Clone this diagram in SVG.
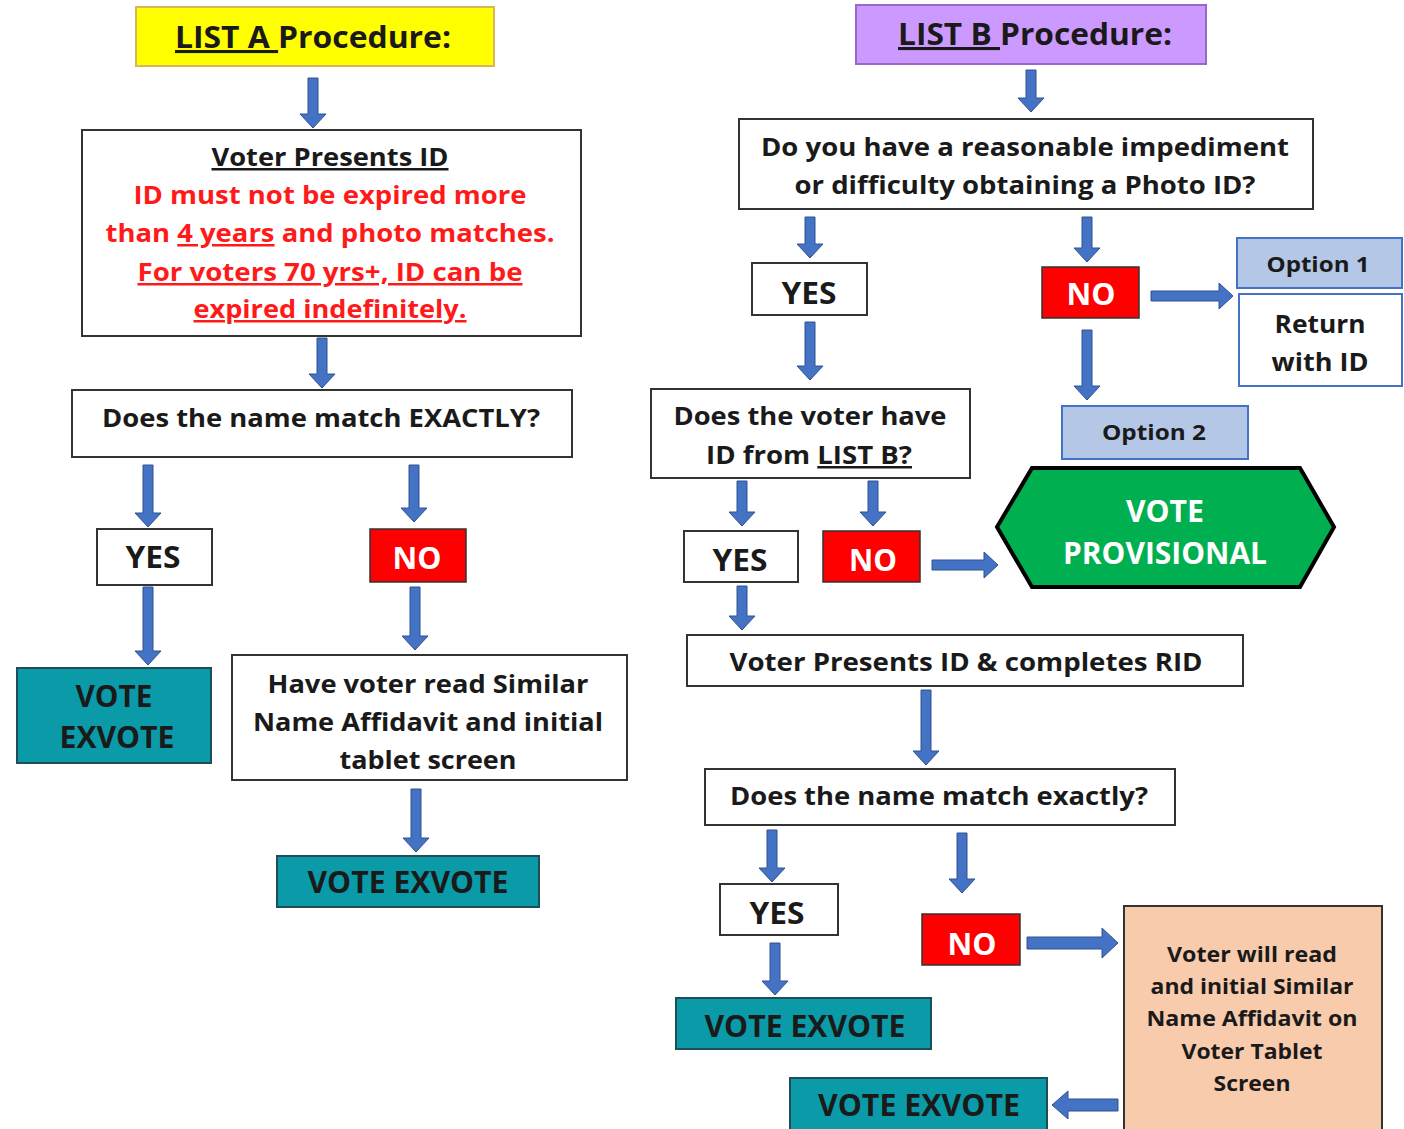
<svg xmlns="http://www.w3.org/2000/svg" width="1404" height="1129" viewBox="0 0 1404 1129">
<style>
text{font-family:"Open Sans","Liberation Sans",sans-serif;font-weight:bold;text-anchor:middle}
.t{font-size:25px;fill:#1a1a1a}
.big{font-size:31px;fill:#1a1a1a}
.yn{font-size:30px}
.red{fill:#ff1a1a}
.w{fill:#fff}
.sm{font-size:21px;fill:#1a1a1a}
.box{fill:#fff;stroke:#333;stroke-width:2}
.no{fill:#ff0000;stroke:#333;stroke-width:1.5}
.teal{fill:#0a9aa8;stroke:#1f4e5a;stroke-width:2}
.opt{fill:#b4c7e7;stroke:#4472c4;stroke-width:2}
.ret{fill:#fff;stroke:#4472c4;stroke-width:2}
.arr path{fill:#4472c4;stroke:#2f528f;stroke-width:1}
</style>
<g id="connectors" class="arr">
<path d="M308 78H318V114H326L313 128L300 114H308Z"/>
<path d="M317 338H327V374H335L322 388L309 374H317Z"/>
<path d="M143 465H153V513H161L148 527L135 513H143Z"/>
<path d="M409 465H419V508H427L414 522L401 508H409Z"/>
<path d="M143 587H153V651H161L148 665L135 651H143Z"/>
<path d="M410 587H420V636H428L415 650L402 636H410Z"/>
<path d="M411 789H421V838H429L416 852L403 838H411Z"/>
<path d="M1026 70H1036V98H1044L1031 112L1018 98H1026Z"/>
<path d="M805 217H815V244H823L810 258L797 244H805Z"/>
<path d="M1082 217H1092V248H1100L1087 262L1074 248H1082Z"/>
<path d="M1151 291H1219V283L1233 296L1219 309V301H1151Z"/>
<path d="M805 322H815V366H823L810 380L797 366H805Z"/>
<path d="M1082 330H1092V386H1100L1087 400L1074 386H1082Z"/>
<path d="M737 481H747V512H755L742 526L729 512H737Z"/>
<path d="M868 481H878V512H886L873 526L860 512H868Z"/>
<path d="M932 560H984V552L998 565L984 578V570H932Z"/>
<path d="M737 586H747V616H755L742 630L729 616H737Z"/>
<path d="M921 690H931V751H939L926 765L913 751H921Z"/>
<path d="M767 830H777V868H785L772 882L759 868H767Z"/>
<path d="M957 833H967V879H975L962 893L949 879H957Z"/>
<path d="M1027 937H1102V928L1118 943L1102 958V949H1027Z"/>
<path d="M770 943H780V981H788L775 995L762 981H770Z"/>
<path d="M1118 1099H1068V1091L1052 1105L1068 1119V1111H1118Z"/>
</g>
<g id="listA">
<rect x="136" y="7" width="358" height="59" fill="#ffff00" stroke="#d6b656" stroke-width="2"/>
<text class="big" x="313" y="48" textLength="276" lengthAdjust="spacingAndGlyphs"><tspan text-decoration="underline">LIST A </tspan>Procedure:</text>
</g>
<g id="presentsA">
<rect class="box" x="82" y="130" width="499" height="206"/>
<text class="t" x="330" y="166" textLength="237" lengthAdjust="spacingAndGlyphs" text-decoration="underline">Voter Presents ID</text>
<text class="t red" x="330" y="204" textLength="393" lengthAdjust="spacingAndGlyphs">ID must not be expired more</text>
<text class="t red" x="330" y="242" textLength="449" lengthAdjust="spacingAndGlyphs">than <tspan text-decoration="underline">4 years</tspan> and photo matches.</text>
<text class="t red" x="330" y="281" textLength="385" lengthAdjust="spacingAndGlyphs" text-decoration="underline">For voters 70 yrs+, ID can be</text>
<text class="t red" x="330" y="318" textLength="273" lengthAdjust="spacingAndGlyphs" text-decoration="underline">expired indefinitely.</text>
</g>
<g id="matchA">
<rect class="box" x="72" y="390" width="500" height="67"/>
<text class="t" x="321" y="427" textLength="438" lengthAdjust="spacingAndGlyphs">Does the name match EXACTLY?</text>
</g>
<g id="yesA">
<rect class="box" x="97" y="529" width="115" height="56"/>
<text class="yn" fill="#1a1a1a" x="153" y="568" textLength="55" lengthAdjust="spacingAndGlyphs">YES</text>
</g>
<g id="noA">
<rect class="no" x="370" y="529" width="96" height="53"/>
<text class="yn w" x="417" y="569" textLength="49" lengthAdjust="spacingAndGlyphs">NO</text>
</g>
<g id="voteA1">
<rect class="teal" x="17" y="668" width="194" height="95"/>
<text class="yn" fill="#1a1a1a" x="114" y="707" textLength="77" lengthAdjust="spacingAndGlyphs">VOTE</text>
<text class="yn" fill="#1a1a1a" x="117" y="748" textLength="115" lengthAdjust="spacingAndGlyphs">EXVOTE</text>
</g>
<g id="affidavitA">
<rect class="box" x="232" y="655" width="395" height="125"/>
<text class="t" x="428" y="693" textLength="321" lengthAdjust="spacingAndGlyphs">Have voter read Similar</text>
<text class="t" x="428" y="731" textLength="350" lengthAdjust="spacingAndGlyphs">Name Affidavit and initial</text>
<text class="t" x="428" y="769" textLength="177" lengthAdjust="spacingAndGlyphs">tablet screen</text>
</g>
<g id="voteA2">
<rect class="teal" x="277" y="856" width="262" height="51"/>
<text class="yn" fill="#1a1a1a" x="408" y="893" textLength="201" lengthAdjust="spacingAndGlyphs">VOTE EXVOTE</text>
</g>
<g id="listB">
<rect x="856" y="5" width="350" height="59" fill="#cc99ff" stroke="#9966cc" stroke-width="2"/>
<text class="big" x="1035" y="45" textLength="274" lengthAdjust="spacingAndGlyphs"><tspan text-decoration="underline">LIST B </tspan>Procedure:</text>
</g>
<g id="impediment">
<rect class="box" x="739" y="119" width="574" height="90"/>
<text class="t" x="1025" y="156" textLength="528" lengthAdjust="spacingAndGlyphs">Do you have a reasonable impediment</text>
<text class="t" x="1025" y="194" textLength="461" lengthAdjust="spacingAndGlyphs">or difficulty obtaining a Photo ID?</text>
</g>
<g id="yesB1">
<rect class="box" x="752" y="263" width="115" height="52"/>
<text class="yn" fill="#1a1a1a" x="809" y="304" textLength="55" lengthAdjust="spacingAndGlyphs">YES</text>
</g>
<g id="noB1">
<rect class="no" x="1042" y="267" width="97" height="51"/>
<text class="yn w" x="1091" y="305" textLength="49" lengthAdjust="spacingAndGlyphs">NO</text>
</g>
<g id="option1">
<rect class="opt" x="1237" y="238" width="165" height="50"/>
<text class="sm" x="1318" y="272" textLength="103" lengthAdjust="spacingAndGlyphs">Option 1</text>
</g>
<g id="returnID">
<rect class="ret" x="1239" y="294" width="163" height="92"/>
<text class="t" x="1320" y="333" textLength="91" lengthAdjust="spacingAndGlyphs">Return</text>
<text class="t" x="1320" y="371" textLength="97" lengthAdjust="spacingAndGlyphs">with ID</text>
</g>
<g id="option2">
<rect class="opt" x="1062" y="406" width="186" height="53"/>
<text class="sm" x="1154" y="440" textLength="104" lengthAdjust="spacingAndGlyphs">Option 2</text>
</g>
<g id="listBq">
<rect class="box" x="651" y="389" width="319" height="89"/>
<text class="t" x="810" y="425" textLength="273" lengthAdjust="spacingAndGlyphs">Does the voter have</text>
<text class="t" x="809" y="464" textLength="206" lengthAdjust="spacingAndGlyphs">ID from <tspan text-decoration="underline">LIST B?</tspan></text>
</g>
<g id="provisional">
<polygon points="997,527 1032,468 1300,468 1334,527 1300,587 1032,587" fill="#00b050" stroke="#000" stroke-width="4"/>
<text class="yn w" x="1165" y="522" textLength="78" lengthAdjust="spacingAndGlyphs">VOTE</text>
<text class="yn w" x="1165" y="564" textLength="204" lengthAdjust="spacingAndGlyphs">PROVISIONAL</text>
</g>
<g id="yesB2">
<rect class="box" x="684" y="531" width="114" height="51"/>
<text class="yn" fill="#1a1a1a" x="740" y="571" textLength="55" lengthAdjust="spacingAndGlyphs">YES</text>
</g>
<g id="noB2">
<rect class="no" x="823" y="531" width="97" height="51"/>
<text class="yn w" x="873" y="571" textLength="48" lengthAdjust="spacingAndGlyphs">NO</text>
</g>
<g id="rid">
<rect class="box" x="687" y="635" width="556" height="51"/>
<text class="t" x="966" y="671" textLength="473" lengthAdjust="spacingAndGlyphs">Voter Presents ID &amp; completes RID</text>
</g>
<g id="matchB">
<rect class="box" x="705" y="769" width="470" height="56"/>
<text class="t" x="939" y="805" textLength="418" lengthAdjust="spacingAndGlyphs">Does the name match exactly?</text>
</g>
<g id="yesB3">
<rect class="box" x="720" y="884" width="118" height="51"/>
<text class="yn" fill="#1a1a1a" x="777" y="924" textLength="55" lengthAdjust="spacingAndGlyphs">YES</text>
</g>
<g id="noB3">
<rect class="no" x="922" y="914" width="98" height="51"/>
<text class="yn w" x="972" y="955" textLength="49" lengthAdjust="spacingAndGlyphs">NO</text>
</g>
<g id="affidavitB">
<rect x="1124" y="906" width="258" height="230" fill="#f8cbad" stroke="#333" stroke-width="2"/>
<text class="sm" x="1252" y="962" textLength="170" lengthAdjust="spacingAndGlyphs">Voter will read</text>
<text class="sm" x="1252" y="994" textLength="203" lengthAdjust="spacingAndGlyphs">and initial Similar</text>
<text class="sm" x="1252" y="1026" textLength="211" lengthAdjust="spacingAndGlyphs">Name Affidavit on</text>
<text class="sm" x="1252" y="1059" textLength="141" lengthAdjust="spacingAndGlyphs">Voter Tablet</text>
<text class="sm" x="1252" y="1091" textLength="77" lengthAdjust="spacingAndGlyphs">Screen</text>
</g>
<g id="voteB1">
<rect class="teal" x="676" y="998" width="255" height="51"/>
<text class="yn" fill="#1a1a1a" x="805" y="1037" textLength="201" lengthAdjust="spacingAndGlyphs">VOTE EXVOTE</text>
</g>
<g id="voteB2">
<rect class="teal" x="790" y="1078" width="257" height="60"/>
<text class="yn" fill="#1a1a1a" x="919" y="1116" textLength="202" lengthAdjust="spacingAndGlyphs">VOTE EXVOTE</text>
</g>
</svg>
